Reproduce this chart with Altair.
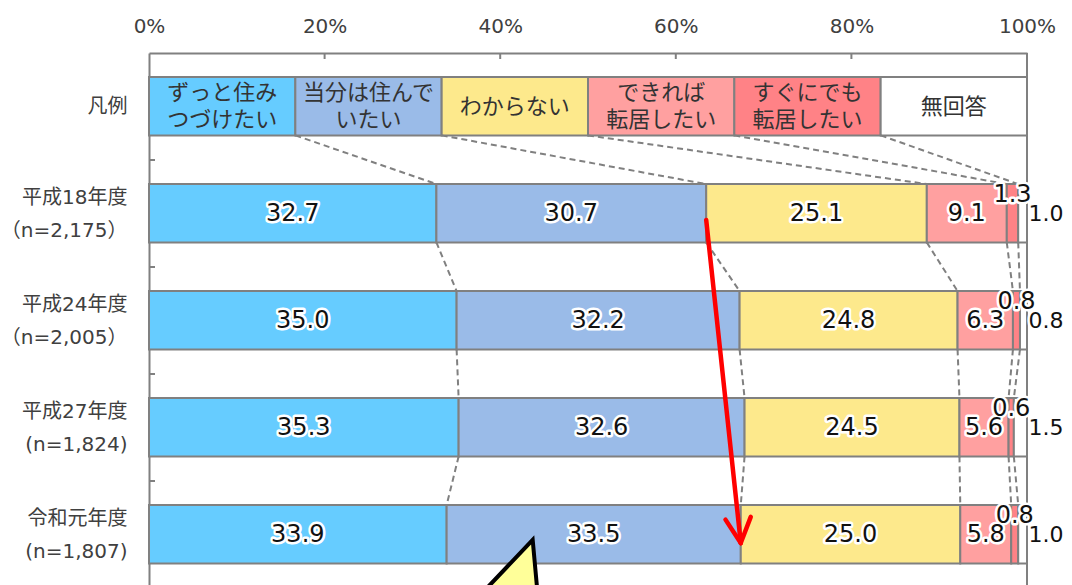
import math
import altair as alt
import pandas as pd

# ---------------- data ----------------
categories = ["ずっと住みつづけたい", "当分は住んでいたい", "わからない",
              "できれば転居したい", "すぐにでも転居したい", "無回答"]
legend_text = ["ずっと住み\nつづけたい", "当分は住んで\nいたい", "わからない",
               "できれば\n転居したい", "すぐにでも\n転居したい", "無回答"]
row_labels = ["凡例", "平成18年度|（n=2,175）", "平成24年度|（n=2,005）",
              "平成27年度|(n=1,824)", "令和元年度|(n=1,807)"]
values_h18 = [32.7, 30.7, 25.1, 9.1, 1.3, 1.0]
values_h24 = [35.0, 32.2, 24.8, 6.3, 0.8, 0.8]
values_h27 = [35.3, 32.6, 24.5, 5.6, 0.6, 1.5]
values_r01 = [33.9, 33.5, 25.0, 5.8, 0.8, 1.0]
rows = [values_h18, values_h24, values_h27, values_r01]
colors = ["#66ccff", "#9abbe8", "#fde98c", "#ffa0a0", "#ff8286", "#ffffff"]
x_tick_values = [0, 20, 40, 60, 80, 100]
arrow_y = [1.56, 4.58]          # arrow start / tip (row units)
callout_x = [38.5, 43.7, 44.2]   # callout tail
callout_y = [5.0, 4.55, 5.0]

# ---------------- layout constants ----------------
FONT = "DejaVu Sans, Noto Sans CJK JP"
W, H = 878, 535
Y_MAX = 5.0
PX_X = W / 100.0
PX_Y = H / Y_MAX
BAR_TOP, BAR_BOT = 0.225, 0.77
GRAY = "#808080"
AX_LH = 33     # axis label line height
LEG_LH = 27    # legend label line height

# ---------------- tables ----------------
seg = []
bounds = []
leg_b = [100.0 * i / 6 for i in range(7)]
bounds.append(leg_b)
for i, name in enumerate(categories):
    seg.append(dict(cat=name, x0=leg_b[i], x1=leg_b[i + 1], y0=BAR_TOP, y1=BAR_BOT))
for r, vals in enumerate(rows, start=1):
    tot = sum(vals)
    cum = [0.0]
    for v in vals:
        cum.append(cum[-1] + v * 100.0 / tot)
    bounds.append(cum)
    for i, name in enumerate(categories):
        seg.append(dict(cat=name, x0=cum[i], x1=cum[i + 1], y0=r + BAR_TOP, y1=r + BAR_BOT))
seg_df = pd.DataFrame(seg)

lab = []
for r, vals in enumerate(rows, start=1):
    cum = bounds[r]
    for i, v in enumerate(vals):
        mid = (cum[i] + cum[i + 1]) / 2
        fs = 24
        if i == 5:
            x, y, fs = 100 + 19 / PX_X, r + 0.5, 22
        elif i == 4:
            x, y = mid, r + 0.5 - 0.17
        else:
            x, y = mid, r + 0.5
        lab.append(dict(x=x, y=y, text=f"{v:.1f}", fs=fs))
lab_df = pd.DataFrame(lab)

leg_df = pd.DataFrame([
    dict(x=(leg_b[i] + leg_b[i + 1]) / 2,
         y=0.5 - (t.count("\n")) * LEG_LH / 2 / PX_Y,
         text=t)
    for i, t in enumerate(legend_text)])

conn = []
for r in range(len(bounds) - 1):
    for j in range(1, 6):
        conn.append(dict(x=bounds[r][j], y=r + BAR_BOT, x2=bounds[r + 1][j], y2=r + 1 + BAR_TOP))
conn_df = pd.DataFrame(conn)

frame = []
for t in x_tick_values[1:-1]:
    frame.append(dict(x=t, x2=t, y=0, y2=6 / PX_Y))
for k in range(1, 5):
    frame.append(dict(x=0, x2=6 / PX_X, y=k, y2=k))
frame.append(dict(x=100, x2=100, y=0, y2=Y_MAX))
frame_df = pd.DataFrame(frame)

# arrow
xs0, xt = bounds[1][2], bounds[4][2]
ys0, yt = arrow_y
dxp, dyp = (xt - xs0) * PX_X, (yt - ys0) * PX_Y
L = math.hypot(dxp, dyp)
ux, uy = -dxp / L, -dyp / L
arr = [dict(x=xs0, y=ys0, x2=xt, y2=yt)]
for ang in (27, -27):
    a = math.radians(ang)
    rx = ux * math.cos(a) - uy * math.sin(a)
    ry = ux * math.sin(a) + uy * math.cos(a)
    arr.append(dict(x=xt, y=yt, x2=xt + rx * 28 / PX_X, y2=yt + ry * 28 / PX_Y))
arr_df = pd.DataFrame(arr)

call_df = pd.DataFrame(dict(x=callout_x, y=callout_y, y2=[Y_MAX] * 3))

# ---------------- scales & axes (shared by all layers) ----------------
xs = alt.Scale(domain=[0, 100], nice=False, zero=False)
ys = alt.Scale(domain=[0, Y_MAX], reverse=True, nice=False, zero=False)

arr_js = "[" + ",".join("'" + s + "'" for s in row_labels) + "]"
y_label_expr = f"split({arr_js}[floor(datum.value)], '|')"
# first line of a multi-line label sits at its anchor, so two-line labels are raised half a line
y_label_pos = [k + 0.5 - (s.count("|")) * AX_LH / 2 / PX_Y for k, s in enumerate(row_labels)]

x_axis = alt.Axis(orient="top", values=x_tick_values, labelExpr="datum.value + '%'",
                  ticks=False, tickSize=0, domain=True, domainColor=GRAY, domainWidth=2,
                  grid=False, labelFont=FONT, labelFontSize=20, labelColor="#404040",
                  labelPadding=17, labelFlush=False, labelOverlap=False, title=None)
y_axis = alt.Axis(orient="left", values=y_label_pos, labelExpr=y_label_expr,
                  ticks=False, tickSize=0, domain=True, domainColor=GRAY, domainWidth=2,
                  grid=False, labelFont=FONT, labelFontSize=20, labelColor="#404040",
                  labelPadding=22, labelLineHeight=AX_LH, labelFlush=False,
                  labelOverlap=False, labelBaseline="middle", labelAlign="right", title=None)


def X(f):
    return alt.X(f"{f}:Q", scale=xs, axis=x_axis, title=None)


def Y(f):
    return alt.Y(f"{f}:Q", scale=ys, axis=y_axis, title=None)


bars = alt.Chart(seg_df).mark_rect(stroke=GRAY, strokeWidth=2).encode(
    x=X("x0"), x2="x1:Q", y=Y("y0"), y2="y1:Q",
    fill=alt.Fill("cat:N", scale=alt.Scale(domain=categories, range=colors), legend=None),
)

frame_l = alt.Chart(frame_df).mark_rule(color=GRAY, strokeWidth=2).encode(
    x=X("x"), x2="x2:Q", y=Y("y"), y2="y2:Q")

conn_l = alt.Chart(conn_df).mark_rule(color=GRAY, strokeWidth=2, strokeDash=[6, 4]).encode(
    x=X("x"), x2="x2:Q", y=Y("y"), y2="y2:Q")

leg_l = alt.Chart(leg_df).mark_text(font=FONT, fontSize=22, lineBreak="\n", lineHeight=LEG_LH,
                                    color="#333333", align="center", baseline="middle").encode(
    x=X("x"), y=Y("y"), text="text:N")

halo = alt.Chart(lab_df).mark_text(font=FONT, align="center", baseline="middle",
                                   stroke="white", strokeWidth=5, strokeJoin="round",
                                   fill="white").encode(
    x=X("x"), y=Y("y"), text="text:N", size=alt.Size("fs:Q", scale=None, legend=None))
vals_l = alt.Chart(lab_df).mark_text(font=FONT, align="center", baseline="middle",
                                     color="#111111").encode(
    x=X("x"), y=Y("y"), text="text:N", size=alt.Size("fs:Q", scale=None, legend=None))

arrow_l = alt.Chart(arr_df).mark_rule(color="#ff0000", strokeWidth=4.5, strokeCap="round").encode(
    x=X("x"), x2="x2:Q", y=Y("y"), y2="y2:Q")

call_l = alt.Chart(call_df).mark_area(fill="#ffff99", stroke="black", strokeWidth=4,
                                      opacity=1, fillOpacity=1, strokeJoin="miter").encode(
    x=X("x"), y=Y("y"), y2="y2:Q")

chart = alt.layer(bars, frame_l, conn_l, leg_l, halo, vals_l, arrow_l, call_l).properties(
    width=W, height=H,
    padding={"left": 141, "top": 45, "right": 37, "bottom": 0},
    autosize=alt.AutoSizeParams(type="none"),
    background="white",
).configure_view(stroke=None)

chart.save("out.html", embed_options={"renderer": "svg", "actions": False})
